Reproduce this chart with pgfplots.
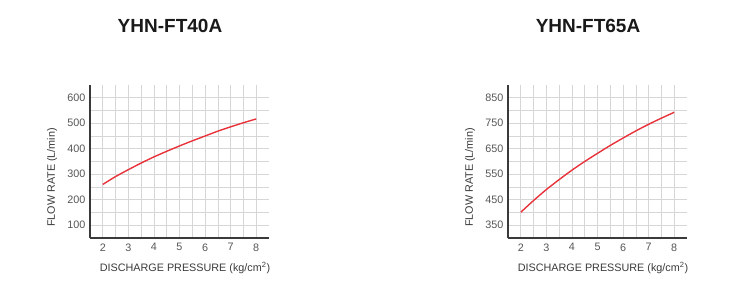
\documentclass[border=0pt]{standalone}
\usepackage{pgfplots}
\pgfplotsset{compat=1.18}
\usepackage{fontspec}
\setmainfont{Liberation Sans}
\definecolor{curvered}{HTML}{E8333B}
\definecolor{gridgray}{HTML}{D6D6D6}
\definecolor{axgray}{HTML}{3A3A3A}
\definecolor{ticktxt}{HTML}{555555}
\begin{document}
\begin{tikzpicture}
\useasboundingbox (0pt,0pt) rectangle (750pt,289pt);
\pgfplotsset{
  flowstyle/.style={
    scale only axis,
    width=179pt, height=153pt,
    anchor=south west,
    xmin=1.5, xmax=8.5,
    axis x line*=bottom, axis y line*=left,
    axis line style={-, axgray, line width=1.4pt},
    xtick={2,...,8},
    minor xtick={2.5,3.5,...,7.5},
    grid=both,
    major grid style={gridgray, line width=0.6pt},
    minor grid style={gridgray, line width=0.6pt},
    major tick length=0pt, minor tick length=0pt,
    tick label style={font=\fontsize{10.8}{12}\selectfont, text=ticktxt},
    /pgf/number format/assume math mode=true,
    xticklabel style={yshift=-2pt},
    yticklabel style={xshift=-1pt},
    clip=false,
  }
}
\begin{axis}[flowstyle, at={(90pt,51pt)},
  ymin=50, ymax=650,
  ytick={100,200,...,600},
  minor ytick={150,250,...,550}]
\addplot[curvered, line width=1.4pt, smooth] coordinates {
 (2,260) (2.5,291) (3,318) (3.5,344) (4,368) (4.5,390) (5,411)
 (5.5,431) (6,450) (6.5,469) (7,486) (7.5,502) (8,517)};
\end{axis}
\begin{axis}[flowstyle, at={(508pt,51pt)},
  ymin=300, ymax=900,
  ytick={350,450,...,850},
  minor ytick={400,500,...,800}]
\addplot[curvered, line width=1.4pt, smooth] coordinates {
 (2,401) (2.5,447) (3,490) (3.5,529) (4,566) (4.5,600) (5,632)
 (5.5,663) (6,692) (6.5,720) (7,746) (7.5,770) (8,793)};
\end{axis}
\node[font=\fontsize{19}{22}\selectfont\bfseries, text=black!90] at (170pt,263pt) {YHN-FT40A};
\node[font=\fontsize{19}{22}\selectfont\bfseries, text=black!90] at (588pt,263pt) {YHN-FT65A};
\node[font=\fontsize{10.8}{12}\selectfont, text=axgray, rotate=90] at (52pt,111.5pt) {FLOW RATE (L/min)};
\node[font=\fontsize{10.8}{12}\selectfont, text=axgray, rotate=90] at (470pt,111.5pt) {FLOW RATE (L/min)};
\node[font=\fontsize{10.8}{12}\selectfont, text=axgray] at (185pt,21pt) {DISCHARGE PRESSURE (kg/cm\textsuperscript{2})};
\node[font=\fontsize{10.8}{12}\selectfont, text=axgray] at (603pt,21pt) {DISCHARGE PRESSURE (kg/cm\textsuperscript{2})};
\end{tikzpicture}
\end{document}
